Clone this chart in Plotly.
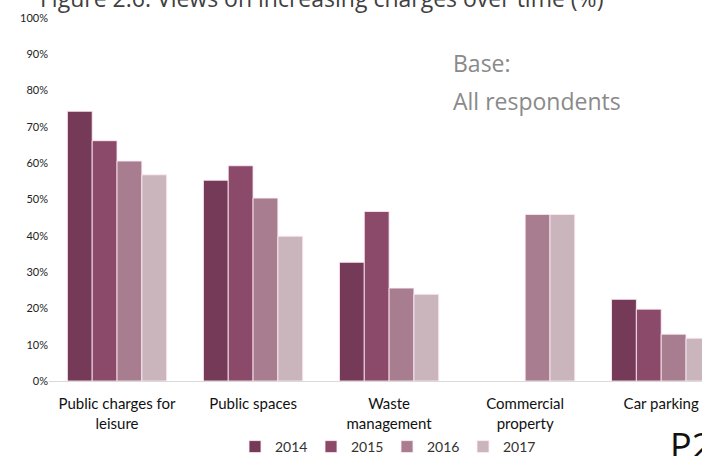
import plotly.graph_objects as go

# Categories and survey results (% of respondents) by year
categories = [
    "Public charges for<br>leisure",
    "Public spaces",
    "Waste<br>management",
    "Commercial<br>property",
    "Car parking",
]
years = ["2014", "2015", "2016", "2017"]
pct_2014 = [74.3, 55.3, 32.7, None, 22.5]
pct_2015 = [66.2, 59.3, 46.7, None, 19.8]
pct_2016 = [60.6, 50.4, 25.6, 45.9, 12.9]
pct_2017 = [56.8, 39.9, 23.9, 45.9, 11.8]
y_ticks = [0, 10, 20, 30, 40, 50, 60, 70, 80, 90, 100]

series = [pct_2014, pct_2015, pct_2016, pct_2017]
colors = ["#743A58", "#8B4A69", "#A87D8F", "#CBB5BD"]

# plot area in pixels: left edge 49, 0% at y=381, 100% at y=18
W, H = 702, 456
L, BOT, TOP = 49, 381, 18
PW, PH = W - L, BOT - TOP


def px(x):
    return (x - L) / PW


def py(y):
    return (BOT - y) / PH


fig = go.Figure()
for yr, vals, col in zip(years, series, colors):
    fig.add_trace(go.Bar(
        name=yr,
        x=categories,
        y=vals,
        marker=dict(color=col, line=dict(color="rgba(255,235,245,0.85)", width=1)),
    ))

fig.update_layout(
    width=W,
    height=H,
    margin=dict(l=L, r=0, t=TOP, b=H - BOT, autoexpand=False),
    paper_bgcolor="white",
    plot_bgcolor="white",
    barmode="group",
    bargap=0.27,
    bargroupgap=0,
    font=dict(family="Lato, sans-serif", color="#222"),
    showlegend=True,
    legend=dict(
        orientation="h",
        xref="container", yref="container",
        x=387 / W, xanchor="center",
        y=(H - 447) / H, yanchor="middle",
        bgcolor="rgba(0,0,0,0)",
        font=dict(size=14, color="#333"),
        itemwidth=30,
        entrywidth=31,
        entrywidthmode="pixels",
        tracegroupgap=0,
        traceorder="normal",
    ),
    xaxis=dict(
        range=[-0.5, 4.3],
        showline=True,
        linecolor="#d9d9d9",
        linewidth=1,
        ticks="",
        ticklabelstandoff=9,
        tickfont=dict(size=15, color="#111"),
        showgrid=False,
        automargin=False,
    ),
    yaxis=dict(
        range=[0, 100],
        tickvals=y_ticks,
        ticktext=[f"{v}%" for v in y_ticks],
        tickfont=dict(size=11, color="#222"),
        showgrid=False,
        zeroline=False,
        ticks="",
        automargin=False,
    ),
    annotations=[
        dict(
            text="Figure 2.6: Views on increasing charges over time (%)",
            xref="paper", yref="paper",
            x=px(38), y=py(-2), xanchor="left", yanchor="middle",
            showarrow=False,
            font=dict(family="Open Sans, sans-serif", size=23, color="#404040"),
        ),
        dict(
            text="Base:",
            xref="paper", yref="paper",
            x=px(451), y=py(63), xanchor="left", yanchor="middle",
            showarrow=False,
            font=dict(family="Open Sans, sans-serif", size=23, color="#8a8a8a"),
        ),
        dict(
            text="All respondents",
            xref="paper", yref="paper",
            x=px(451), y=py(101), xanchor="left", yanchor="middle",
            showarrow=False,
            font=dict(family="Open Sans, sans-serif", size=23, color="#8a8a8a"),
        ),
        dict(
            text="P2",
            xref="paper", yref="paper",
            x=px(668), y=py(445), xanchor="left", yanchor="middle",
            showarrow=False,
            font=dict(family="Open Sans, sans-serif", size=36, color="#111"),
        ),
    ],
)

fig.write_html("out.html")
